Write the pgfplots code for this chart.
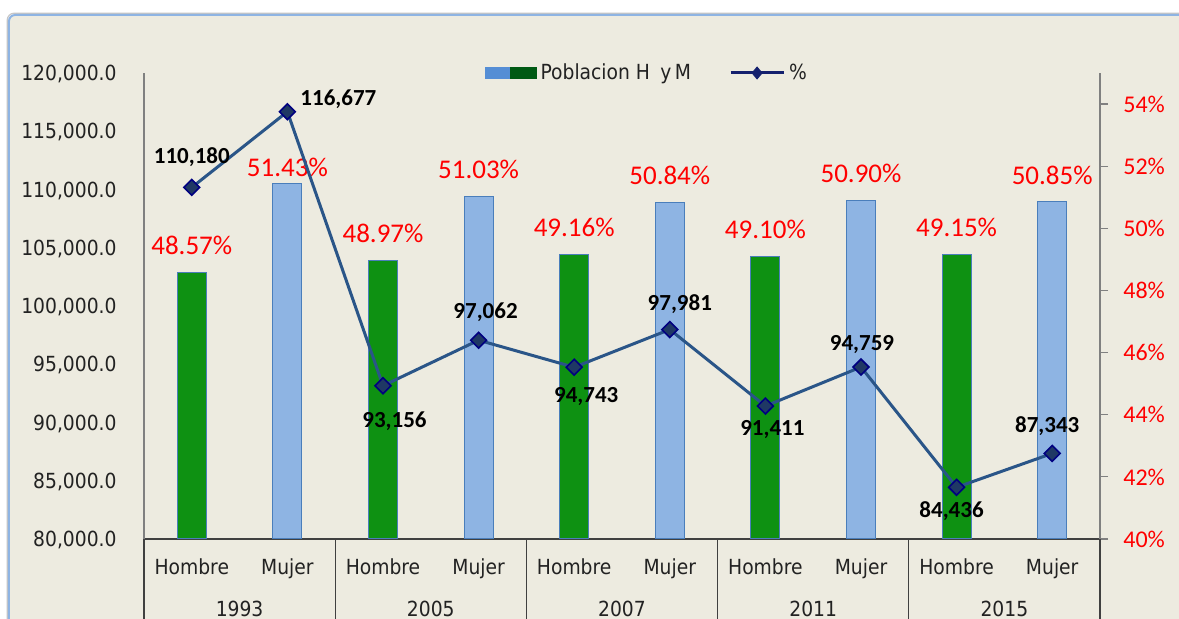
\documentclass[border=0pt]{standalone}
\usepackage{fontspec}
\usepackage{pgfplots}
\usepackage{pgfplotstable}
\pgfplotsset{compat=1.18}
\setmainfont{DejaVu Sans}[FakeStretch=0.9]
\newfontfamily\tickfamily{DejaVu Sans}[FakeStretch=0.9]
\newfontfamily\calfont{Carlito}
\newcommand\tickfont{\tickfamily\fontsize{10.4}{12}\selectfont}
\definecolor{bg}{HTML}{EDEBE0}
\definecolor{chartborder}{HTML}{8EB4E3}
\definecolor{hombrecol}{HTML}{0E9112}
\definecolor{mujercol}{HTML}{8EB4E3}
\definecolor{barborder}{HTML}{4A7EBB}
\definecolor{linecol}{HTML}{2A5588}
\definecolor{markfill}{HTML}{1F3864}
\definecolor{markdraw}{HTML}{000080}
\definecolor{legblue}{HTML}{558ED5}
\definecolor{leggreen}{HTML}{005A14}
\definecolor{legnavy}{HTML}{14206E}
\definecolor{txt}{HTML}{222222}
\definecolor{sepcol}{HTML}{404040}

\pgfplotstableread{
x y dy
0 48.57 13.5
2 48.97 13.5
4 49.16 13.5
6 49.10 13.5
8 49.15 13.5
}\hombre
\pgfplotstableread{
x y dy
1 51.43 8
3 51.03 13.5
5 50.84 13.5
7 50.90 13.5
9 50.85 13.5
}\mujer
\pgfplotstableread{
x y dx dy
0 110180 0 15
1 116677 25.5 6.5
2 93156 5.75 -17.75
3 97062 3.5 14
4 94743 6 -14.5
5 97981 5 12.5
6 91411 3.5 -11.5
7 94759 0.5 11.5
8 84436 -2.5 -12
9 87343 -2.5 13.5
}\linedata

\begin{document}
\begin{tikzpicture}
\fill[white] (-72pt,-40pt) rectangle (517.5pt,269.5pt);
\draw[gray!45, line width=0.6pt, rounded corners=3.5pt] (-68.4pt,-60pt) rectangle (541pt,262.9pt);
\filldraw[fill=bg, draw=chartborder, line width=1pt, rounded corners=3pt] (-67.5pt,-60pt) rectangle (540pt,262pt);

% bars: percentages on the right axis
\begin{axis}[
  scale only axis, width=478pt, height=233pt,
  xmin=-0.5, xmax=9.5, ymin=40, ymax=55,
  axis y line*=right, axis x line*=bottom,
  x axis line style={draw=sepcol, line width=0.6pt},
  y axis line style={draw=gray, line width=0.6pt},
  xtick={0,1,2,3,4,5,6,7,8,9},
  xticklabels={Hombre,Mujer,Hombre,Mujer,Hombre,Mujer,Hombre,Mujer,Hombre,Mujer},
  x tick style={draw=none},
  xticklabel style={font=\tickfont, text=txt, anchor=base, yshift=-14pt},
  ytick={40,42,44,46,48,50,52,54},
  y tick style={draw=gray, line width=0.6pt},
  tick align=outside, major tick length=4pt,
  yticklabel={\pgfmathprintnumber{\tick}\%},
  yticklabel style={font=\calfont\fontsize{12}{14}\selectfont, text=red, anchor=west, inner sep=0pt, xshift=7.5pt, text depth=0pt},
  /pgf/number format/assume math mode=true,
  nodes near coords={\pgfmathprintnumber[fixed,fixed zerofill,precision=2,assume math mode=true]{\pgfplotspointmeta}\%},
  every node near coord/.append style={font=\calfont\fontsize{13.5}{15}\selectfont, text=red, anchor=center, yshift=\dy pt},
  visualization depends on={\thisrow{dy} \as \dy},
]
\addplot[ybar, bar width=14.5pt, bar shift=0pt, fill=hombrecol, draw=barborder, line width=0.5pt] table[x=x,y=y] {\hombre};
\addplot[ybar, bar width=14.5pt, bar shift=0pt, fill=mujercol, draw=barborder, line width=0.5pt] table[x=x,y=y] {\mujer};
\end{axis}

% line: population on the left axis
\begin{axis}[
  scale only axis, width=478pt, height=233pt,
  xmin=-0.5, xmax=9.5, ymin=80000, ymax=120000,
  axis y line*=left, axis x line=none,
  y axis line style={draw=gray, line width=0.6pt},
  ytick={80000,85000,90000,95000,100000,105000,110000,115000,120000},
  major tick length=0pt,
  scaled y ticks=false,
  /pgf/number format/assume math mode=true,
  yticklabel style={font=\tickfont, text=txt, anchor=east, inner sep=0pt, xshift=-13.5pt, text depth=0pt,
    /pgf/number format/fixed, /pgf/number format/fixed zerofill,
    /pgf/number format/precision=1, /pgf/number format/1000 sep={,}},
  legend style={at={(0.527,1)}, anchor=center, draw=none, fill=none, font=\tickfont, text=txt,
    /tikz/every even column/.append style={column sep=17pt}},
  legend columns=2,
  legend cell align=left,
]
\addlegendimage{legend image code/.code={\fill[legblue] (0pt,-2.75pt) rectangle (12.75pt,2.75pt); \fill[leggreen] (12.75pt,-2.75pt) rectangle (25.5pt,2.75pt);}}
\addlegendentry{Poblacion H\enspace y\,M}
\addlegendimage{legend image code/.code={\draw[legnavy, line width=1.5pt] (0pt,0pt) -- (26.5pt,0pt); \fill[legnavy] (13.25pt,3pt) -- (15.75pt,0pt) -- (13.25pt,-3pt) -- (10.75pt,0pt) -- cycle;}}
\addlegendentry{\%}
\addplot[linecol, line width=1.5pt, mark=square*, mark size=2.8pt,
  mark options={rotate=45, fill=markfill, draw=markdraw, line width=0.8pt},
  forget plot,
  nodes near coords={\pgfmathprintnumber[fixed,precision=0,1000 sep={,},assume math mode=true]{\pgfplotspointmeta}},
  point meta=y,
  visualization depends on={\thisrow{dx} \as \dx},
  visualization depends on={\thisrow{dy} \as \dy},
  every node near coord/.append style={font=\calfont\bfseries\fontsize{11.5}{13}\selectfont, text=black, anchor=center, xshift=\dx pt, yshift=\dy pt},
] table[x=x,y=y] {\linedata};
\end{axis}

% category group separators and year labels
\foreach \xx in {0,95.6,191.2,286.8,382.4,478} {
  \draw[sepcol, line width=0.6pt] (\xx pt,0) -- (\xx pt,-45pt);
}
\foreach \xx/\yr in {47.8/1993,143.4/2005,239/2007,334.6/2011,430.2/2015} {
  \node[font=\tickfont, text=txt, anchor=base, inner sep=0pt] at (\xx pt,-38.6pt) {\yr};
}
\pgfresetboundingbox
\path[use as bounding box] (-72pt,-40pt) rectangle (517.5pt,269.5pt);
\end{tikzpicture}
\end{document}
